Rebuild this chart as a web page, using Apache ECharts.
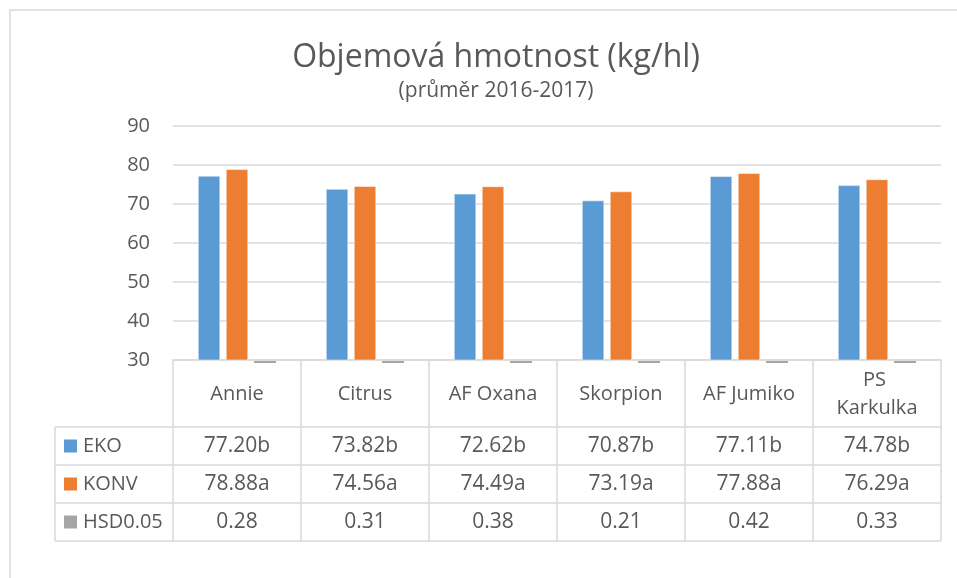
<!DOCTYPE html>
<html>
<head>
<meta charset="utf-8">
<script src="https://cdn.jsdelivr.net/npm/echarts@6/dist/echarts.min.js"></script>
<style>
html,body{margin:0;padding:0;background:#fff}
#main{width:957px;height:578px}
</style>
</head>
<body>
<div id="main"></div>
<script>
// data
var categories = ['Annie', 'Citrus', 'AF Oxana', 'Skorpion', 'AF Jumiko', 'PS Karkulka'];
var seriesNames = ['EKO', 'KONV', 'HSD0.05'];
var ekoValues = [77.20, 73.82, 72.62, 70.87, 77.11, 74.78];
var konvValues = [78.88, 74.56, 74.49, 73.19, 77.88, 76.29];
var hsdValues = [0.28, 0.31, 0.38, 0.21, 0.42, 0.33];
var ekoLetters = ['b', 'b', 'b', 'b', 'b', 'b'];
var konvLetters = ['a', 'a', 'a', 'a', 'a', 'a'];
var yMin = 30, yMax = 90, yStep = 10;

var colors = ['#5b9bd5', '#ed7d31', '#a5a5a5'];
var font = '"Open Sans", "Noto Sans", sans-serif';
var textColor = '#595959';
var lineColor = '#d9d9d9';

var chart = echarts.init(document.getElementById('main'));

var option = {
	animation: false,
	title: {
		text: 'Objemová hmotnost (kg/hl)',
		subtext: '(průměr 2016-2017)',
		left: 491,
		top: 37,
		textAlign: 'center',
		itemGap: 7,
		textStyle: {fontFamily: font, fontSize: 32, fontWeight: 'normal', color: textColor},
		subtextStyle: {fontFamily: font, fontSize: 21, color: textColor}
	},
	grid: {left: 173, right: 16, top: 126, bottom: 218},
	xAxis: {
		type: 'category',
		data: categories,
		axisLine: {show: true, lineStyle: {color: lineColor, width: 1.5}},
		axisTick: {show: false},
		axisLabel: {
			interval: 0,
			margin: 34,
			verticalAlign: 'middle',
			width: 106,
			overflow: 'break',
			lineHeight: 28,
			fontFamily: font,
			fontSize: 20,
			color: textColor
		}
	},
	yAxis: {
		type: 'value',
		min: yMin,
		max: yMax,
		interval: yStep,
		axisLine: {show: false},
		axisTick: {show: false},
		splitLine: {lineStyle: {color: lineColor, width: 1.5}},
		axisLabel: {margin: 23, fontFamily: font, fontSize: 20, color: textColor}
	},
	series: [{
		name: seriesNames[0],
		type: 'bar',
		data: ekoValues,
		barWidth: 22,
		barGap: '27%',
		itemStyle: {color: colors[0], borderColor: '#fff', borderWidth: 0.5}
	}, {
		name: seriesNames[1],
		type: 'bar',
		data: konvValues,
		barWidth: 22,
		barGap: '27%',
		itemStyle: {color: colors[1], borderColor: '#fff', borderWidth: 0.5}
	}, {
		name: seriesNames[2],
		type: 'bar',
		data: hsdValues,
		barWidth: 22,
		barGap: '27%',
		itemStyle: {color: colors[2]}
	}, {
		// HSD bars fall below the axis min; draw the clipped stub like the original
		name: seriesNames[2] + ' stub',
		type: 'custom',
		clip: false,
		data: hsdValues.map(function(v, i) { return [i, v]; }),
		renderItem: function(params, api) {
			var p = api.coord([api.value(0), yMin]);
			return {
				type: 'rect',
				shape: {x: p[0] + 17, y: p[1] + 1, width: 22, height: 2},
				style: {fill: colors[2]}
			};
		}
	}]
};
chart.setOption(option);

// data table under the plot
function buildTable() {
	var g = [];
	var y0 = chart.convertToPixel({yAxisIndex: 0}, yMin);
	var centers = categories.map(function(c, i) { return chart.convertToPixel({xAxisIndex: 0}, i); });
	var colW = centers.length > 1 ? centers[1] - centers[0] : 128;
	var xL = centers[0] - colW / 2;
	var xR = centers[centers.length - 1] + colW / 2;
	var legendX = 55;
	var headBottom = y0 + 67;
	var rowH = 38;
	var rowsY = [headBottom, headBottom + rowH, headBottom + rowH * 2, headBottom + rowH * 3];
	var ls = {stroke: lineColor, lineWidth: 1.5};

	// outer chart frame
	g.push({type: 'rect', shape: {x: 10, y: 10, width: 1000, height: 1000}, style: {fill: 'none', stroke: lineColor, lineWidth: 1.5}, silent: true});

	// horizontal lines
	rowsY.forEach(function(y) {
		g.push({type: 'line', shape: {x1: legendX, y1: y, x2: xR, y2: y}, style: ls});
	});
	// vertical lines
	for (var i = 0; i <= categories.length; i++) {
		var x = xL + colW * i;
		g.push({type: 'line', shape: {x1: x, y1: y0, x2: x, y2: rowsY[3]}, style: ls});
	}
	g.push({type: 'line', shape: {x1: legendX, y1: rowsY[0], x2: legendX, y2: rowsY[3]}, style: ls});

	var rows = [
		ekoValues.map(function(v, i) { return v.toFixed(2) + ekoLetters[i]; }),
		konvValues.map(function(v, i) { return v.toFixed(2) + konvLetters[i]; }),
		hsdValues.map(function(v) { return v.toFixed(2); })
	];
	rows.forEach(function(row, r) {
		var cy = rowsY[r] + rowH / 2;
		g.push({type: 'rect', shape: {x: 64, y: cy - 6.5, width: 13, height: 13}, style: {fill: colors[r]}});
		g.push({type: 'text', x: 83, y: cy, style: {text: seriesNames[r], font: '20px ' + font, fill: textColor, align: 'left', verticalAlign: 'middle'}});
		row.forEach(function(t, i) {
			g.push({type: 'text', x: centers[i], y: cy, style: {text: t, font: '21px ' + font, fill: textColor, align: 'center', verticalAlign: 'middle'}});
		});
	});
	chart.setOption({graphic: {elements: g}});
}
buildTable();
</script>
</body>
</html>
